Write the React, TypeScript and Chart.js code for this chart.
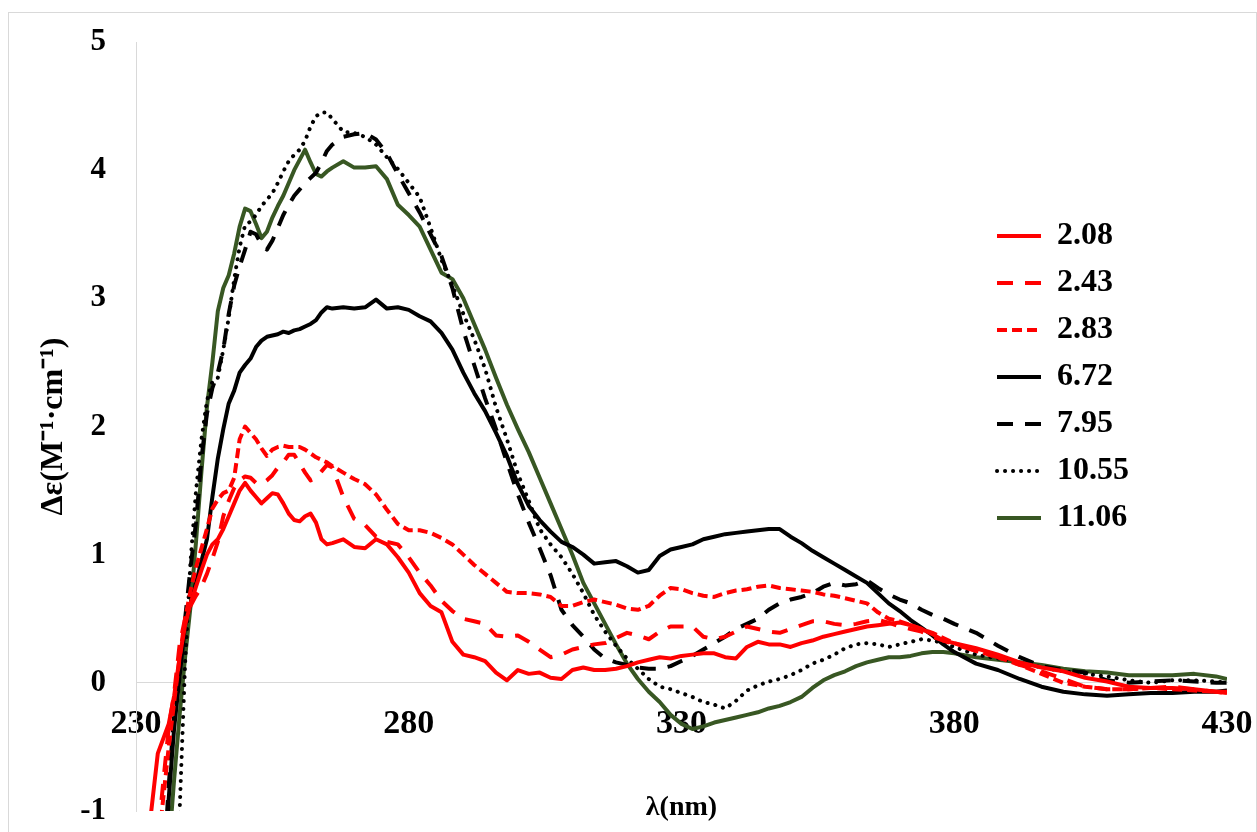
import React, { useEffect, useRef } from 'react';
import { Chart, registerables } from 'chart.js';

Chart.register(...registerables);

// Wavelength grid (nm)
const wavelengths = [
  232, 234,
  236, 237, 238, 239, 240, 241, 242, 243, 244, 245,
  246, 247, 248, 249, 250, 251, 252, 253, 254, 255,
  256, 257, 258, 259, 260, 261, 262, 263, 264, 265,
  266, 268, 270, 272, 274, 276, 278, 280, 282, 284,
  286, 288, 290, 292, 294, 296, 298, 300, 302, 304,
  306, 308, 310, 312, 314, 316, 318, 320, 322, 324,
  326, 328, 330, 332, 334, 336, 338, 340, 342, 344,
  346, 348, 350, 352, 354, 356, 358, 360, 362, 364,
  366, 368, 370, 372, 374, 376, 378, 380,
  384, 388, 392, 396, 400, 404, 408, 412, 416, 420, 424, 428, 430,
];

const seriesLabels = ['2.08', '2.43', '2.83', '6.72', '7.95', '10.55', '11.06'];

const s208 = [
  -1.3, -0.55,
  -0.32, -0.1, 0.2, 0.45, 0.62, 0.75, 0.88, 1.0, 1.08, 1.12,
  1.2, 1.3, 1.4, 1.5, 1.56, 1.5, 1.45, 1.4, 1.44, 1.48,
  1.47, 1.4, 1.32, 1.27, 1.26, 1.3, 1.32, 1.25, 1.12, 1.08,
  1.09, 1.12, 1.06, 1.05, 1.12, 1.08, 0.98, 0.86, 0.7, 0.6,
  0.55, 0.32, 0.22, 0.2, 0.17, 0.08, 0.02, 0.1, 0.07, 0.08,
  0.04, 0.03, 0.1, 0.12, 0.1, 0.1, 0.11, 0.13, 0.16, 0.18,
  0.2, 0.19, 0.21, 0.22, 0.23, 0.23, 0.2, 0.19, 0.28, 0.32,
  0.3, 0.3, 0.28, 0.31, 0.33, 0.36, 0.38, 0.4, 0.42, 0.44,
  0.45, 0.46, 0.47, 0.45, 0.42, 0.38, 0.33, 0.31,
  0.27, 0.22, 0.16, 0.12, 0.09, 0.04, 0.01, -0.03, -0.04, -0.04, -0.05, -0.07, -0.08,
];

const s243 = [
  -2, -1.2,
  -0.35, -0.08, 0.3, 0.5, 0.6, 0.68, 0.75, 0.85, 0.97, 1.1,
  1.3, 1.42, 1.52, 1.58, 1.61, 1.6, 1.56, 1.55, 1.58, 1.62,
  1.68, 1.72, 1.78, 1.78, 1.71, 1.64, 1.58, 1.6, 1.65, 1.7,
  1.68, 1.45, 1.28, 1.23, 1.14, 1.1, 1.08, 0.98, 0.86, 0.76,
  0.64, 0.56, 0.5, 0.48, 0.46, 0.37, 0.36, 0.37, 0.32, 0.26,
  0.2, 0.22, 0.26, 0.28, 0.3, 0.31, 0.35, 0.39, 0.37, 0.34,
  0.4, 0.44, 0.44, 0.44, 0.36, 0.34, 0.36, 0.4, 0.44, 0.42,
  0.4, 0.39, 0.42, 0.45, 0.48, 0.48, 0.46, 0.45, 0.46, 0.48,
  0.49, 0.47, 0.44, 0.42, 0.4, 0.36, 0.33, 0.3,
  0.25, 0.2, 0.14, 0.09, 0.03, -0.03, -0.05, -0.05, -0.04, -0.03, -0.05, -0.07, -0.08,
];

const s283 = [
  -2, -1.3,
  -0.5, -0.15, 0.2, 0.5, 0.72, 0.9, 1.05, 1.2, 1.36, 1.43,
  1.48, 1.5, 1.6, 1.9, 2.0, 1.95, 1.9, 1.83, 1.77, 1.82,
  1.84, 1.85, 1.84, 1.84, 1.84, 1.82, 1.79, 1.76, 1.74, 1.72,
  1.69, 1.64, 1.59, 1.55, 1.47, 1.35, 1.24, 1.19, 1.19, 1.17,
  1.13, 1.08, 1.0, 0.92, 0.85, 0.78, 0.71, 0.7, 0.7, 0.69,
  0.67, 0.6, 0.6, 0.63, 0.65, 0.63, 0.61, 0.58, 0.57, 0.6,
  0.68, 0.74, 0.73, 0.7, 0.68, 0.67, 0.7, 0.72, 0.73, 0.75,
  0.76, 0.74, 0.73, 0.72, 0.71, 0.69, 0.68, 0.66, 0.64, 0.62,
  0.55, 0.5, 0.48, 0.45, 0.42, 0.39, 0.35, 0.31,
  0.25, 0.2, 0.14, 0.07, 0.0, -0.03, -0.05, -0.05, -0.04, -0.05, -0.06, -0.07, -0.07,
];

const s672 = [
  -3, -2.5,
  -0.9, -0.35, 0.05, 0.45, 0.62, 0.78, 0.95, 1.12, 1.45, 1.75,
  1.98, 2.18, 2.28, 2.42, 2.48, 2.53, 2.62, 2.67, 2.7, 2.71,
  2.72, 2.74, 2.73, 2.75, 2.76, 2.78, 2.8, 2.83, 2.89, 2.93,
  2.92, 2.93, 2.92, 2.93, 2.99, 2.92, 2.93, 2.91, 2.86, 2.82,
  2.73, 2.6, 2.42, 2.26, 2.12, 1.95, 1.77, 1.55, 1.38, 1.27,
  1.18, 1.1, 1.06, 1.0, 0.93, 0.94, 0.95, 0.91, 0.86, 0.88,
  0.99, 1.04, 1.06, 1.08, 1.12, 1.14, 1.16, 1.17, 1.18, 1.19,
  1.2, 1.2, 1.14, 1.09, 1.03, 0.98, 0.93, 0.88, 0.83, 0.78,
  0.7, 0.62, 0.56, 0.49, 0.43, 0.37, 0.3, 0.24,
  0.15, 0.1, 0.03, -0.03, -0.07, -0.09, -0.1, -0.09, -0.08, -0.08, -0.07, -0.07, -0.06,
];

const s795 = [
  -3, -2.2,
  -0.8, -0.25, 0.1, 0.5, 0.9, 1.25, 1.75, 2.1, 2.3, 2.42,
  2.6, 2.88, 3.1, 3.25, 3.38, 3.52, 3.5, 3.42, 3.38, 3.45,
  3.55, 3.65, 3.73, 3.8, 3.85, 3.9, 3.94, 3.98, 4.06, 4.15,
  4.2, 4.26, 4.28, 4.29, 4.24, 4.13, 3.97, 3.82, 3.67, 3.5,
  3.33, 3.08, 2.75, 2.48, 2.22, 1.98, 1.72, 1.47, 1.25, 1.05,
  0.84, 0.57, 0.45, 0.36, 0.26, 0.19, 0.16, 0.14, 0.12, 0.11,
  0.11, 0.13, 0.17, 0.21, 0.26, 0.31, 0.36, 0.42, 0.46, 0.5,
  0.57, 0.62, 0.65, 0.67, 0.7, 0.75, 0.78, 0.76, 0.77, 0.8,
  0.74, 0.69, 0.65, 0.62, 0.57, 0.53, 0.5, 0.46,
  0.39, 0.29, 0.2, 0.13, 0.1, 0.08, 0.02, 0.0, 0.01, 0.02, 0.01, 0.0, 0.0,
];

const s1055 = [
  -4, -3,
  -2.2, -1.8, -1.0, 0.15, 0.95, 1.5, 1.9, 2.2, 2.35, 2.38,
  2.6, 2.85, 3.15, 3.4, 3.57, 3.6, 3.65, 3.72, 3.77, 3.82,
  3.9, 3.99, 4.07, 4.12, 4.16, 4.23, 4.34, 4.42, 4.45, 4.45,
  4.4, 4.3, 4.29, 4.26, 4.2, 4.1, 4.01, 3.9, 3.79, 3.55,
  3.3, 3.1, 2.88, 2.68, 2.45, 2.15, 1.9, 1.63, 1.42, 1.2,
  1.08, 0.98, 0.85, 0.7, 0.53, 0.4, 0.29, 0.19, 0.11, 0.03,
  -0.03, -0.05, -0.08, -0.11, -0.15, -0.17, -0.2, -0.14, -0.06, -0.02,
  0.01, 0.03, 0.06, 0.1, 0.15, 0.18, 0.22, 0.27, 0.3, 0.31,
  0.3, 0.28, 0.3, 0.32, 0.34, 0.33, 0.31, 0.28,
  0.22, 0.19, 0.16, 0.12, 0.09, 0.07, 0.05, 0.02, 0.0, 0.02, 0.02, 0.01, 0.0,
];

const s1106 = [
  -4, -3,
  -1.3, -0.75, -0.25, 0.2, 0.6, 1.1, 1.65, 2.15, 2.5, 2.9,
  3.08, 3.18, 3.35, 3.56, 3.7, 3.68, 3.58, 3.47, 3.52, 3.63,
  3.72, 3.8, 3.9, 4.0, 4.08, 4.16, 4.06, 3.97, 3.95, 3.99,
  4.02, 4.07, 4.02, 4.02, 4.03, 3.93, 3.73, 3.65, 3.56, 3.38,
  3.2, 3.15, 3.0, 2.8, 2.6, 2.38, 2.17, 1.98, 1.8, 1.6,
  1.4, 1.2, 1.0, 0.78, 0.62, 0.46, 0.3, 0.15, 0.03, -0.07,
  -0.15, -0.25, -0.32, -0.36, -0.34, -0.31, -0.29, -0.27, -0.25, -0.23,
  -0.2, -0.18, -0.15, -0.11, -0.04, 0.02, 0.06, 0.09, 0.13, 0.16,
  0.18, 0.2, 0.2, 0.21, 0.23, 0.24, 0.24, 0.23,
  0.2, 0.18, 0.16, 0.14, 0.11, 0.09, 0.08, 0.06, 0.06, 0.06, 0.07, 0.05, 0.03,
];

const seriesValues = [s208, s243, s283, s672, s795, s1055, s1106];

const xTicks = [230, 280, 330, 380, 430];
const yTicks = [-1, 0, 1, 2, 3, 4, 5];

const xTitle = 'λ(nm)';
const yTitle = 'Δε(M⁻¹·cm⁻¹)';

// styling
const seriesColors = ['#FF0000', '#FF0000', '#FF0000', '#000000', '#000000', '#000000', '#385723'];
const seriesDashes = [[], [16, 12], [10, 5], [], [16, 12], [0.1, 7.9], []];
const seriesCaps = ['butt', 'butt', 'butt', 'butt', 'butt', 'round', 'butt'];

const FAMILY = "'Liberation Serif', 'Times New Roman', serif";
const AXIS_GRAY = '#d9d9d9';

const legendPlacer = {
  id: 'legendPlacer',
  afterLayout(chart: any) {
    const lg = chart.legend;
    if (!lg) return;
    lg.left = 982;
    lg.top = 205;
  },
};

export default function App() {
  const ref = useRef<HTMLCanvasElement>(null);

  useEffect(() => {
    const canvas = ref.current;
    if (!canvas) return;
    const datasets = seriesValues.map((vals, i) => ({
      label: seriesLabels[i],
      data: wavelengths.map((x, j) => ({ x, y: vals[j] })),
      borderColor: seriesColors[i],
      backgroundColor: seriesColors[i],
      borderDash: seriesDashes[i],
      borderCapStyle: seriesCaps[i],
      borderJoinStyle: 'round',
      borderWidth: 4,
      pointRadius: 0,
      pointHoverRadius: 0,
      tension: 0,
      fill: false,
    }));

    const chart = new Chart(canvas, {
      type: 'line',
      data: { datasets } as any,
      plugins: [legendPlacer],
      options: {
        responsive: false,
        animation: false,
        events: [],
        layout: { padding: { left: 0, right: 30, top: 42, bottom: 21 } },
        scales: {
          x: {
            type: 'linear',
            min: 230,
            max: 430,
            position: { y: 0 } as any,
            afterBuildTicks: (s: any) => {
              s.ticks = xTicks.map((v) => ({ value: v }));
            },
            afterFit: (s: any) => {
              s.height = 142;
            },
            ticks: {
              autoSkip: false,
              maxRotation: 0,
              padding: 0,
              color: '#000',
              font: { family: FAMILY, size: 34, weight: 'bold' },
            },
            grid: { display: false, drawTicks: true, tickLength: 21 },
            border: { display: true, color: AXIS_GRAY, width: 1 },
            title: {
              display: true,
              text: xTitle,
              color: '#000',
              padding: 0,
              font: { family: FAMILY, size: 28, weight: 'bold' },
            },
          },
          y: {
            type: 'linear',
            min: -1,
            max: 5,
            afterBuildTicks: (s: any) => {
              s.ticks = yTicks.map((v) => ({ value: v }));
            },
            afterFit: (s: any) => {
              s.width = 136;
            },
            ticks: {
              padding: 0,
              color: '#000',
              font: { family: FAMILY, size: 31, weight: 'bold' },
            },
            grid: { display: false, drawTicks: true, tickLength: 30 },
            border: { display: true, color: AXIS_GRAY, width: 1 },
            title: {
              display: true,
              text: yTitle,
              color: '#000',
              padding: { top: 35, bottom: 0 },
              font: { family: FAMILY, size: 32, weight: 'bold' },
            },
          },
        },
        plugins: {
          tooltip: { enabled: false },
          legend: {
            display: true,
            position: 'chartArea',
            align: 'start',
            labels: {
              usePointStyle: true,
              pointStyleWidth: 44,
              padding: 15,
              color: '#000',
              font: { family: FAMILY, size: 32, weight: 'bold' },
              generateLabels: (c: any) =>
                c.data.datasets.map((ds: any, i: number) => ({
                  text: ds.label,
                  fillStyle: ds.borderColor,
                  strokeStyle: ds.borderColor,
                  fontColor: '#000',
                  lineWidth: 4,
                  lineDash: ds.borderDash,
                  lineCap: ds.borderCapStyle,
                  lineJoin: 'round',
                  pointStyle: 'line',
                  hidden: false,
                  datasetIndex: i,
                })),
            },
          },
        },
      } as any,
    });
    return () => chart.destroy();
  }, []);

  return (
    <div
      style={{
        position: 'fixed',
        left: 0,
        top: 0,
        width: 1257,
        height: 832,
        overflow: 'hidden',
        background: '#fff',
      }}
    >
      <div
        style={{
          position: 'absolute',
          left: 8,
          top: 12,
          width: 1249,
          height: 840,
          border: '1px solid #d9d9d9',
          boxSizing: 'border-box',
        }}
      />
      <canvas
        ref={ref}
        width={1257}
        height={832}
        style={{ position: 'absolute', left: 0, top: 0, width: 1257, height: 832 }}
      />
    </div>
  );
}
